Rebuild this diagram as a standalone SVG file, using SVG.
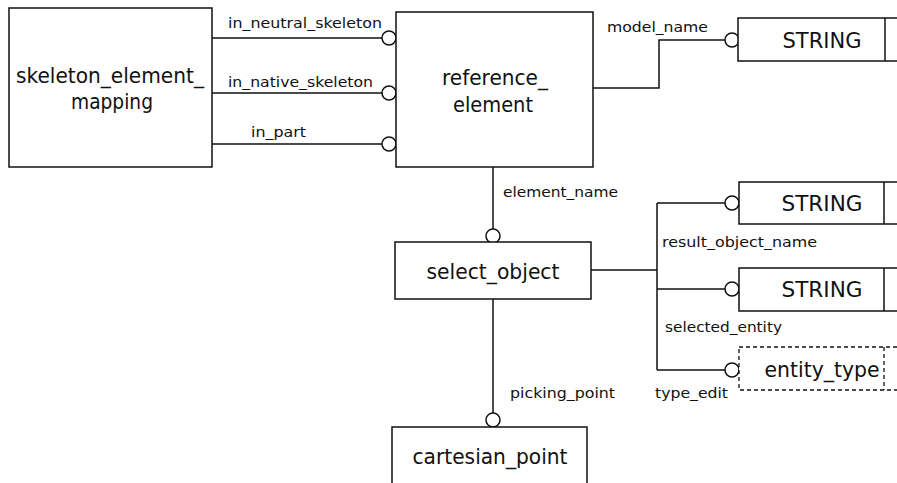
<svg xmlns="http://www.w3.org/2000/svg" width="897" height="483" viewBox="0 0 897 483">
<style>
.box{fill:#fff;stroke:#111;stroke-width:1.5}
.dash{fill:#fff;stroke:#111;stroke-width:1.3;stroke-dasharray:4 3}
.ln{fill:none;stroke:#111;stroke-width:1.5}
.ring{fill:#fff;stroke:#111;stroke-width:1.5}
.big{font-family:"DejaVu Sans",Verdana,sans-serif;font-size:20.5px;fill:#111;text-anchor:middle}
.lbl{font-family:"DejaVu Sans",Verdana,sans-serif;font-size:14px;fill:#111}
</style>
<rect width="897" height="483" fill="#fff"/>
<g id="connectors">
  <path class="ln" d="M212 38H382M212 93H382M212 144H382"/>
  <circle class="ring" cx="389" cy="38" r="7"/>
  <circle class="ring" cx="389" cy="93" r="7"/>
  <circle class="ring" cx="389" cy="144" r="7"/>
  <path class="ln" d="M593 88H659V40H725"/>
  <circle class="ring" cx="732" cy="40" r="7"/>
  <path class="ln" d="M493 167V229"/>
  <circle class="ring" cx="493" cy="236" r="7"/>
  <path class="ln" d="M493 299V413"/>
  <circle class="ring" cx="493" cy="420" r="7"/>
  <path class="ln" d="M591 270H657M657 203V370M657 203H725M657 289H725M657 370H725"/>
  <circle class="ring" cx="732" cy="203" r="7"/>
  <circle class="ring" cx="732" cy="289" r="7"/>
  <circle class="ring" cx="732" cy="370" r="7"/>
  <text class="lbl" x="228" y="28" textLength="154" lengthAdjust="spacingAndGlyphs">in_neutral_skeleton</text>
  <text class="lbl" x="228" y="87" textLength="145" lengthAdjust="spacingAndGlyphs">in_native_skeleton</text>
  <text class="lbl" x="251" y="137" textLength="55" lengthAdjust="spacingAndGlyphs">in_part</text>
  <text class="lbl" x="607" y="32" textLength="101" lengthAdjust="spacingAndGlyphs">model_name</text>
  <text class="lbl" x="503" y="197" textLength="115" lengthAdjust="spacingAndGlyphs">element_name</text>
  <text class="lbl" x="510" y="398" textLength="105" lengthAdjust="spacingAndGlyphs">picking_point</text>
  <text class="lbl" x="662" y="247" textLength="155" lengthAdjust="spacingAndGlyphs">result_object_name</text>
  <text class="lbl" x="665" y="332" textLength="117" lengthAdjust="spacingAndGlyphs">selected_entity</text>
  <text class="lbl" x="655" y="398" textLength="73" lengthAdjust="spacingAndGlyphs">type_edit</text>
</g>
<g id="skeleton_element_mapping">
  <rect class="box" x="9" y="8" width="203" height="159"/>
  <text class="big" x="110" y="83" textLength="188" lengthAdjust="spacingAndGlyphs">skeleton_element_</text>
  <text class="big" x="112" y="109" textLength="82" lengthAdjust="spacingAndGlyphs">mapping</text>
</g>
<g id="reference_element">
  <rect class="box" x="396" y="12" width="197" height="155"/>
  <text class="big" x="495" y="85" textLength="106" lengthAdjust="spacingAndGlyphs">reference_</text>
  <text class="big" x="493" y="112" textLength="80" lengthAdjust="spacingAndGlyphs">element</text>
</g>
<g id="string_model_name">
  <rect class="box" x="738" y="18" width="170" height="43"/>
  <line class="ln" x1="885" y1="18" x2="885" y2="61"/>
  <text class="big" x="822" y="48" textLength="79" lengthAdjust="spacingAndGlyphs">STRING</text>
</g>
<g id="select_object">
  <rect class="box" x="395" y="242" width="196" height="57"/>
  <text class="big" x="493" y="279" textLength="133" lengthAdjust="spacingAndGlyphs">select_object</text>
</g>
<g id="cartesian_point">
  <rect class="box" x="392" y="427" width="195" height="70"/>
  <text class="big" x="490" y="464" textLength="155" lengthAdjust="spacingAndGlyphs">cartesian_point</text>
</g>
<g id="string_result_object_name">
  <rect class="box" x="739" y="182" width="170" height="42"/>
  <line class="ln" x1="884" y1="182" x2="884" y2="224"/>
  <text class="big" x="822" y="211" textLength="81" lengthAdjust="spacingAndGlyphs">STRING</text>
</g>
<g id="string_selected_entity">
  <rect class="box" x="739" y="268" width="170" height="43"/>
  <line class="ln" x1="884" y1="268" x2="884" y2="311"/>
  <text class="big" x="822" y="297" textLength="81" lengthAdjust="spacingAndGlyphs">STRING</text>
</g>
<g id="entity_type">
  <rect class="dash" x="739" y="347" width="170" height="43"/>
  <line class="dash" x1="884" y1="347" x2="884" y2="390"/>
  <text class="big" x="822" y="377" textLength="115" lengthAdjust="spacingAndGlyphs">entity_type</text>
</g>
</svg>
